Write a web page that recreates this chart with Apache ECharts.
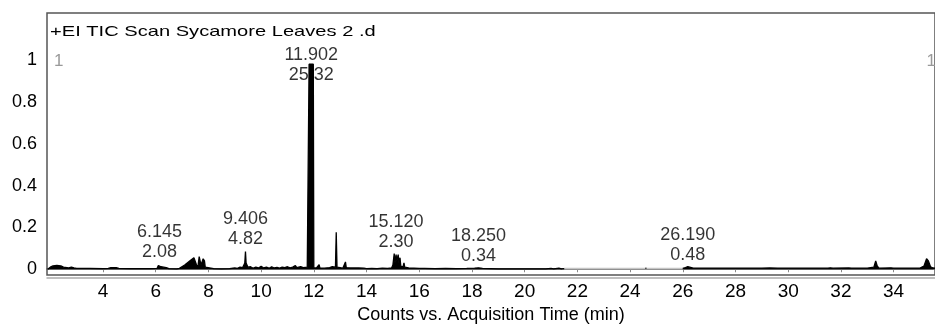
<!DOCTYPE html>
<html>
<head>
<meta charset="utf-8">
<script src="https://cdn.jsdelivr.net/npm/echarts@6/dist/echarts.min.js"></script>
<style>html,body{margin:0;padding:0;background:#fff}#c{width:935px;height:329px}</style>
</head>
<body>
<div id="c"></div>
<script>
// ---- data ----
const titleText = '+EI TIC Scan Sycamore Leaves 2 .d';
const xAxisName = 'Counts vs. Acquisition Time (min)';
const xTickValues = [4, 6, 8, 10, 12, 14, 16, 18, 20, 22, 24, 26, 28, 30, 32, 34];
const yTickValues = [0, 0.2, 0.4, 0.6, 0.8, 1];

// main (black) trace: retention time (min) and normalised response
const traceTime = [1.90,2.00,2.10,2.25,2.40,2.50,2.55,2.70,2.80,2.90,3.00,3.50,4.00,4.20,4.30,4.50,4.60,5.00,5.50,5.80,
  6.05,6.10,6.15,6.20,6.30,6.40,6.50,6.80,6.90,7.10,7.30,7.45,7.50,7.55,7.60,7.65,7.70,7.72,7.80,7.85,7.88,7.95,
  8.20,8.50,8.80,9.00,9.10,9.20,9.30,9.38,9.406,9.43,9.50,9.60,9.70,9.80,9.90,10.00,10.10,10.20,10.30,10.40,10.50,
  10.60,10.70,10.80,10.90,11.00,11.10,11.20,11.30,11.35,11.50,11.60,11.75,11.80,11.82,11.98,12.00,12.05,12.10,12.20,
  12.23,12.40,12.60,12.70,12.75,12.82,12.85,12.88,12.95,13.10,13.20,13.23,13.40,13.70,13.90,14.00,14.20,14.40,14.60,
  14.80,14.95,15.00,15.05,15.08,15.12,15.15,15.20,15.23,15.27,15.30,15.38,15.42,15.45,15.60,16.00,16.20,16.60,17.00,
  17.40,17.80,18.10,18.25,18.40,18.70,19.00,19.50,20.00,20.50,20.80,21.00,21.10,21.30,21.40,21.50,21.55,
  24.58,24.62,24.66,
  26.00,26.10,26.19,26.25,26.40,27.00,28.00,29.00,29.30,29.60,30.50,31.50,31.60,31.70,32.30,32.40,33.00,33.25,33.32,
  33.38,33.45,33.90,34.00,35.00,35.15,35.25,35.32,35.40,35.50,35.60];
const traceValue = [0.000,0.010,0.016,0.018,0.016,0.010,0.004,0.006,0.010,0.006,0.004,0.004,0.003,0.004,0.008,0.008,0.004,0.003,0.003,0.003,
  0.004,0.018,0.025,0.012,0.010,0.008,0.003,0.002,0.004,0.020,0.040,0.055,0.060,0.020,0.010,0.060,0.065,0.020,0.050,0.040,0.010,0.004,
  0.003,0.002,0.003,0.006,0.004,0.010,0.008,0.030,0.085,0.030,0.010,0.012,0.005,0.010,0.006,0.014,0.006,0.010,0.005,0.012,0.006,
  0.009,0.005,0.010,0.008,0.012,0.007,0.010,0.018,0.008,0.012,0.008,0.010,0.006,0.980,0.980,0.006,0.010,0.006,0.022,
  0.006,0.005,0.008,0.012,0.006,0.010,0.177,0.010,0.006,0.005,0.035,0.008,0.006,0.006,0.005,0.003,0.004,0.003,0.005,
  0.004,0.006,0.020,0.075,0.030,0.070,0.040,0.070,0.030,0.055,0.015,0.010,0.030,0.010,0.006,0.004,0.004,0.003,0.004,
  0.003,0.004,0.005,0.007,0.004,0.003,0.002,0.002,0.002,0.002,0.002,0.004,0.002,0.005,0.002,0.003,null,
  0.004,0.005,null,
  0.004,0.008,0.012,0.008,0.005,0.005,0.005,0.005,0.006,0.005,0.005,0.005,0.007,0.005,0.006,0.005,0.005,0.010,0.040,
  0.015,0.005,0.007,0.005,0.005,0.015,0.050,0.040,0.012,0.006,0.005];

// faint (grey) stretch of the trace
const faintTime = [21.50, 24.00, 26.00];
const faintValue = [0.003, 0.003, 0.003];

// labelled peaks: retention time and area %
const peakTimes = [6.145, 9.406, 11.902, 15.120, 18.250, 26.190];
const peakAreas = ['2.08', '4.82', '25.32', '2.30', '0.34', '0.48'];
const cornerMark = '1';

// ---- build ----
const FONT = '"Liberation Sans", Arial, sans-serif';
const trace = traceTime.map((t, i) => [t, traceValue[i]]);
const faint = faintTime.map((t, i) => [t, faintValue[i]]);
function apexNear(rt) {
  let m = 0;
  traceTime.forEach((t, i) => { if (Math.abs(t - rt) <= 0.15 && traceValue[i] != null && traceValue[i] > m) m = traceValue[i]; });
  return m;
}
const peakData = peakTimes.map((rt, i) => {
  const d = { value: [rt, apexNear(rt)], area: peakAreas[i] };
  if (apexNear(rt) > 0.5) d.label = { offset: [0, 23] };
  return d;
});

const chart = echarts.init(document.getElementById('c'), null, { renderer: 'canvas' });
const xCommon = { type: 'value', min: 1.875, max: 35.57 };
chart.setOption({
  animation: false,
  backgroundColor: '#fff',
  grid: { left: 47, right: -3, top: 13, bottom: 44, show: true, borderColor: '#555', borderWidth: 1.5, backgroundColor: '#fff' },
  xAxis: [
    Object.assign({}, xCommon, {
      name: xAxisName, nameLocation: 'middle', nameGap: 28,
      nameTextStyle: { fontFamily: FONT, fontSize: 18, color: '#000' },
      axisLine: { show: true, lineStyle: { color: '#555', width: 1.5 } },
      axisTick: { show: true, inside: false, length: 3, customValues: xTickValues, lineStyle: { color: '#888' } },
      axisLabel: { customValues: xTickValues, fontFamily: FONT, fontSize: 19, color: '#000', margin: 7 },
      splitLine: { show: false }
    }),
    Object.assign({}, xCommon, {
      position: 'bottom', offset: 3,
      axisLine: { show: true, lineStyle: { color: '#aaa', width: 1.5 } },
      axisTick: { show: false }, axisLabel: { show: false }, splitLine: { show: false }
    })
  ],
  yAxis: {
    type: 'value', min: -0.028, max: 1.225,
    axisLine: { show: false }, axisTick: { show: false },
    axisLabel: { customValues: yTickValues, fontFamily: FONT, fontSize: 18, color: '#000', margin: 10 },
    splitLine: { show: false }
  },
  series: [
    {
      type: 'line', data: faint, xAxisIndex: 0, showSymbol: false, z: 2,
      lineStyle: { color: '#c4c4c4', width: 1.5 }
    },
    {
      type: 'scatter', data: peakData, symbolSize: 0, z: 1,
      label: {
        show: true, position: 'top', distance: 2,
        formatter: p => p.value[0].toFixed(3) + '\n' + p.data.area,
        fontFamily: FONT, fontSize: 18, lineHeight: 20, color: '#000'
      }
    },
    {
      type: 'line', data: trace, showSymbol: false, connectNulls: false, z: 3,
      lineStyle: { color: '#000', width: 1.3 },
      areaStyle: { color: '#000', opacity: 1 }
    }
  ],
  graphic: [
    { type: 'text', x: 50, y: 32, scaleX: 1.34, z: 10,
      style: { text: titleText, font: '15px ' + FONT, fill: '#000', align: 'left', verticalAlign: 'middle' } },
    { type: 'text', x: 54, y: 61, z: 10,
      style: { text: cornerMark, font: '17px ' + FONT, fill: '#999', align: 'left', verticalAlign: 'middle' } },
    { type: 'text', x: 936, y: 61, z: 10,
      style: { text: cornerMark, font: '17px ' + FONT, fill: '#999', align: 'right', verticalAlign: 'middle' } }
  ]
});
</script>
</body>
</html>
